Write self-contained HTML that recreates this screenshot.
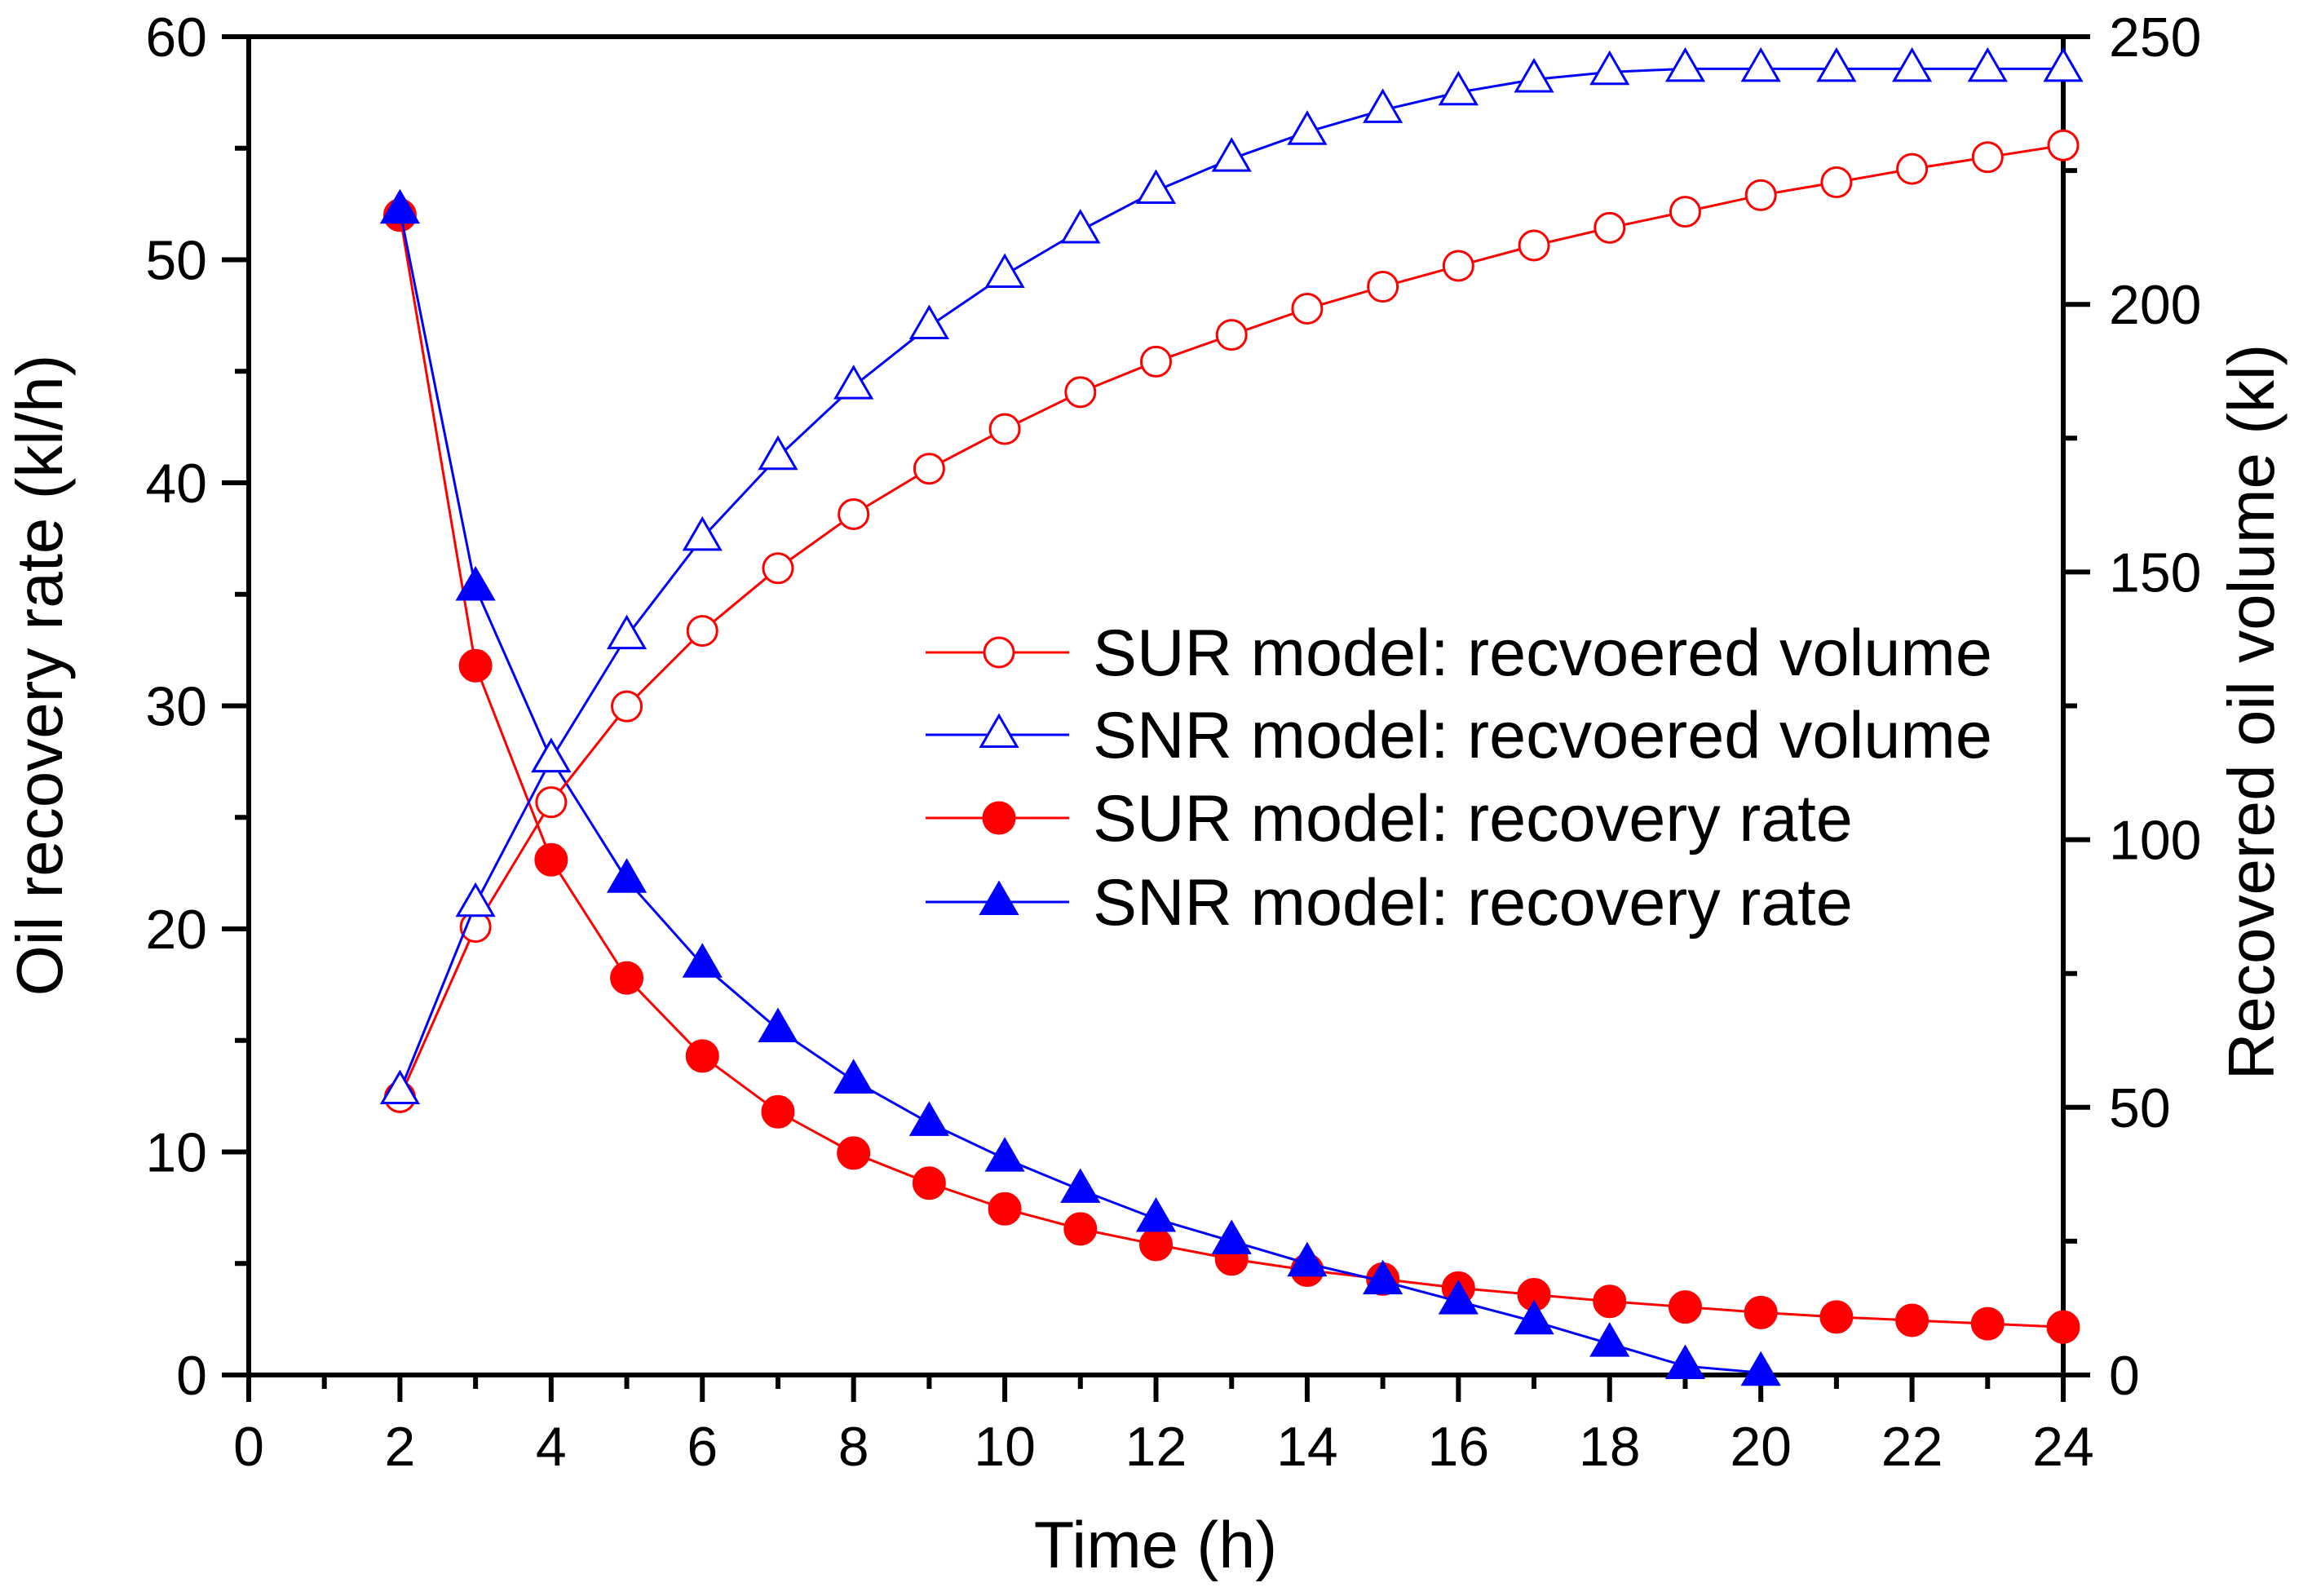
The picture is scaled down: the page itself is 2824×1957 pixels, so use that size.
<!DOCTYPE html>
<html><head><meta charset="utf-8"><style>
html,body{margin:0;padding:0;background:#fff;}
svg{display:block;font-family:"Liberation Sans",Arial,sans-serif;}
</style></head><body>
<svg id="chart" width="2824" height="1957" viewBox="0 0 2824 1957" xmlns="http://www.w3.org/2000/svg">
<g id="axes"></g>
<g id="series"></g>
<g id="legend"></g>
</svg>
<script>
const timesVol = [2,3,4,5,6,7,8,9,10,11,12,13,14,15,16,17,18,19,20,21,22,23,24];
const surVolume = [51.9,83.7,107,124.9,139,150.7,160.8,169.3,176.7,183.6,189.3,194.3,199.2,203.3,207.2,211,214.3,217.3,220.4,222.8,225.3,227.5,229.7];
const snrVolume = [53,88,115,138,156.4,171.5,184.7,195.9,205.5,213.8,221.2,227.2,232.2,236.3,239.6,242,243.4,244,244,244,244,244,244];
const surRate = [52,31.8,23.1,17.8,14.3,11.8,9.95,8.6,7.45,6.55,5.85,5.2,4.7,4.3,3.9,3.6,3.3,3.05,2.8,2.6,2.45,2.3,2.15];
const timesSnrRate = [2,3,4,5,6,7,8,9,10,11,12,13,14,15,16,17,18,19,20];
const snrRate = [52.2,35.3,27.6,22.2,18.4,15.5,13.2,11.3,9.7,8.3,7.0,6.0,5.0,4.2,3.3,2.4,1.4,0.4,0.1];
const xTicks = [0,2,4,6,8,10,12,14,16,18,20,22,24];
const yLeftTicks = [0,10,20,30,40,50,60];
const yRightTicks = [0,50,100,150,200,250];

const L=305,R=2530,T=45,B=1686;
const xS=v=>L+(v-0)/24*(R-L);
const yL=v=>B-v/60*(B-T);
const yR=v=>B-v/250*(B-T);
const NS='http://www.w3.org/2000/svg';
function mk(tag,attrs,parent){const e=document.createElementNS(NS,tag);for(const k in attrs)e.setAttribute(k,attrs[k]);parent.appendChild(e);return e;}
const ax=document.getElementById('axes'),sg=document.getElementById('series'),lg=document.getElementById('legend');

let e;
e=mk('rect',{x:L,y:T,width:R-L,height:B-T,fill:'none',stroke:'#000','stroke-width':6},ax);


for(let v=0;v<=24;v++){
  const x=xS(v),maj=v%2===0;
  e=mk('line',{x1:x,y1:B,x2:x,y2:B+(maj?33:17),stroke:'#000','stroke-width':6},ax);
  
  
}
xTicks.forEach(v=>{
  e=mk('text',{x:xS(v),y:1797,'font-size':68,'text-anchor':'middle'},ax);e.textContent=v;
  
  
});
for(let v=0;v<=60;v+=5){
  const y=yL(v),maj=v%10===0;
  e=mk('line',{x1:L,y1:y,x2:L-(maj?33:17),y2:y,stroke:'#000','stroke-width':6},ax);
  
  
}
yLeftTicks.forEach(v=>{
  e=mk('text',{x:254,y:yL(v)+24,'font-size':68,'text-anchor':'end'},ax);e.textContent=v;
  
  
});
for(let v=0;v<=250;v+=25){
  const y=yR(v),maj=v%50===0;
  e=mk('line',{x1:R,y1:y,x2:R+(maj?33:17),y2:y,stroke:'#000','stroke-width':6},ax);
  
  
}
yRightTicks.forEach(v=>{
  e=mk('text',{x:2586,y:yR(v)+24,'font-size':68,'text-anchor':'start'},ax);e.textContent=v;
  
  
});
e=mk('text',{x:1417,y:1922,'font-size':81,'text-anchor':'middle'},ax);e.textContent='Time (h)';


e=mk('text',{x:0,y:0,'font-size':80,'text-anchor':'middle',transform:'translate(76,828) rotate(-90)'},ax);e.textContent='Oil recovery rate (kl/h)';


e=mk('text',{x:0,y:0,'font-size':80,'text-anchor':'middle',transform:'translate(2788,873) rotate(-90)'},ax);e.textContent='Recovered oil volume (kl)';



function marker(kind,color,cx,cy,parent){
  let m;
  if(kind==='circle'||kind==='dot'){
    m=mk('circle',{cx:cx,cy:cy,r:kind==='dot'?19:18,fill:kind==='dot'?color:'#fff',stroke:color,'stroke-width':3},parent);
  }else{
    const h=38,w=44,filled=kind==='tri';
    m=mk('polygon',{points:`${cx},${cy-h*0.62} ${cx-w/2},${cy+h*0.38} ${cx+w/2},${cy+h*0.38}`,fill:filled?color:'#fff',stroke:color,'stroke-width':3},parent);
  }
  return m;
}
function series(name,xs,ys,yf,color,kind){
  const g=mk('g',{},sg);
  
  
  const pl=mk('polyline',{points:xs.map((x,i)=>xS(x)+','+yf(ys[i])).join(' '),fill:'none',stroke:color,'stroke-width':3},g);
  
  
  xs.forEach((x,i)=>{
    const m=marker(kind,color,xS(x),yf(ys[i]),g);
    
    
  });
}
series('sur-rate',timesVol,surRate,yL,'#ff0000','dot');
series('snr-rate',timesSnrRate,snrRate,yL,'#0000ff','tri');
series('sur-volume',timesVol,surVolume,yR,'#ff0000','circle');
series('snr-volume',timesVol,snrVolume,yR,'#0000ff','otri');

const legendLabels=['SUR model: recvoered volume','SNR model: recvoered volume','SUR model: recovery rate','SNR model: recovery rate'];
const legendKinds=['circle','otri','dot','tri'];
const legendColors=['#ff0000','#0000ff','#ff0000','#0000ff'];
const legendY=[800,901,1003,1106];
legendLabels.forEach((t,i)=>{
  const g=mk('g',{},lg);
  
  
  mk('line',{x1:1135,y1:legendY[i],x2:1311,y2:legendY[i],stroke:legendColors[i],'stroke-width':3},g);
  marker(legendKinds[i],legendColors[i],1225,legendY[i],g);
  const tx=mk('text',{x:1340,y:legendY[i]+28,'font-size':81},g);tx.textContent=t;
  
  
});
</script>
</body></html>
